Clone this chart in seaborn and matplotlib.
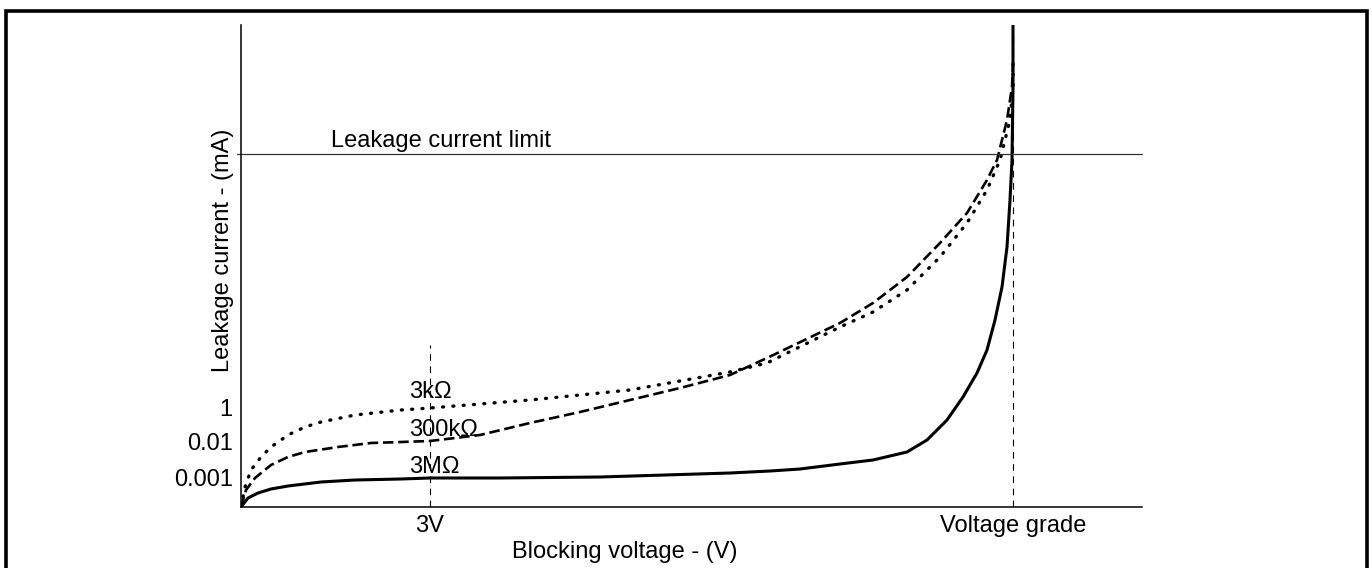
import matplotlib
matplotlib.use("Agg")
import matplotlib.pyplot as plt
import seaborn as sns
import pandas as pd

# values (x: blocking voltage, y: leakage current, arbitrary units)
x_3M = [0, 7, 17, 30, 47, 80, 114, 160, 189, 259, 359, 489, 529, 559, 599, 632, 666, 686,
        706, 722, 736, 746, 754, 761, 766, 769, 771, 772, 772]
y_3M = [0, 9, 14, 18, 21, 25, 27, 28, 29, 29, 30, 34, 36, 38, 43, 47, 55, 67,
        87, 110, 134, 157, 187, 220, 260, 307, 347, 420, 482]

x_300k = [0, 5, 14, 30, 47, 64, 97, 130, 160, 189, 239, 289, 339, 389, 439, 489, 526,
          599, 632, 666, 699, 726, 746, 756, 766, 771, 772]
y_300k = [0, 17, 29, 42, 50, 55, 60, 64, 65, 66, 72, 84, 95, 107, 119, 132, 149,
          184, 204, 230, 264, 294, 327, 347, 387, 420, 442]

x_3k = [0, 4, 10, 20, 30, 47, 64, 80, 114, 160, 189, 289, 389, 489, 526, 599, 632,
        666, 699, 726, 746, 759, 766, 769, 772, 772]
y_3k = [0, 20, 37, 50, 60, 72, 80, 85, 92, 97, 99, 107, 117, 135, 144, 180, 195,
        217, 250, 284, 317, 347, 375, 387, 420, 444]

curve_names = ["3k\u03a9", "300k\u03a9", "3M\u03a9"]
y_ticks = [29, 65, 99]
y_tick_labels = ["0.001", "0.01", "1"]
x_ticks = [189, 772]
x_tick_labels = ["3V", "Voltage grade"]
limit_level = 353
v3_top = 162
x_max, y_max = 901, 482

df = pd.concat([
    pd.DataFrame({"V": x_3k, "I": y_3k, "R": curve_names[0]}),
    pd.DataFrame({"V": x_300k, "I": y_300k, "R": curve_names[1]}),
    pd.DataFrame({"V": x_3M, "I": y_3M, "R": curve_names[2]}),
])

sns.set_style("white")
plt.rcParams["font.family"] = ["Liberation Sans", "DejaVu Sans"]
plt.rcParams["font.size"] = 17
plt.rcParams["text.color"] = "black"
plt.rcParams["axes.labelcolor"] = "black"
plt.rcParams["xtick.color"] = "black"
plt.rcParams["ytick.color"] = "black"

fig = plt.figure(figsize=(13.72, 5.68), dpi=100)
ax = fig.add_axes([241 / 1372, 61 / 568, 901 / 1372, 482 / 568])

styles = {
    curve_names[0]: dict(linestyle=(0, (0.3, 2.8)), lw=2.4, dash_capstyle="round"),
    curve_names[1]: dict(linestyle=(0, (4, 1.8)), lw=1.9),
    curve_names[2]: dict(linestyle="-", lw=2.2),
}
for name in curve_names:
    sub = df[df["R"] == name]
    sns.lineplot(data=sub, x="V", y="I", sort=False, estimator=None,
                 color="black", ax=ax, **styles[name])

ax.axhline(limit_level, xmin=-4 / 901, xmax=1, color="#333333", lw=0.9, clip_on=False)
ax.axvline(x_ticks[1], color="black", lw=0.8, linestyle=(0, (6, 5)), zorder=1)
ax.plot([x_ticks[0], x_ticks[0]], [0, v3_top], color="black", lw=0.8, linestyle=(0, (6, 5)))

ax.text(90, limit_level + 7, "Leakage current limit", ha="left", va="baseline")
ax.text(168, 109, curve_names[0], ha="left", va="baseline")
ax.text(168, 71, curve_names[1], ha="left", va="baseline")
ax.text(168, 34, curve_names[2], ha="left", va="baseline")

ax.set_xlim(0, x_max)
ax.set_ylim(0, y_max)
ax.set_xticks(x_ticks, x_tick_labels)
ax.set_yticks(y_ticks, y_tick_labels)
ax.tick_params(axis="both", length=0, labelsize=17)
ax.tick_params(axis="x", pad=6)
ax.tick_params(axis="y", pad=6)

ax.set_xlabel("Blocking voltage - (V)", fontsize=17)
ax.xaxis.set_label_coords((625 - 241) / 901, -0.07)
ax.set_ylabel("Leakage current - (mA)", fontsize=17, va="center")
ax.yaxis.set_label_coords(-0.02, (507 - 250) / 482)

sns.despine(ax=ax)
for s in ["left", "bottom"]:
    ax.spines[s].set_linewidth(1.1)
    ax.spines[s].set_color("black")

border = plt.Rectangle((5.5 / 1372, -0.05), 1361.5 / 1372, 1.05 - 11 / 568,
                       transform=fig.transFigure, fill=False, ec="black", lw=2.6,
                       clip_on=False)
fig.patches.append(border)

fig.savefig("out.png", dpi=100)
